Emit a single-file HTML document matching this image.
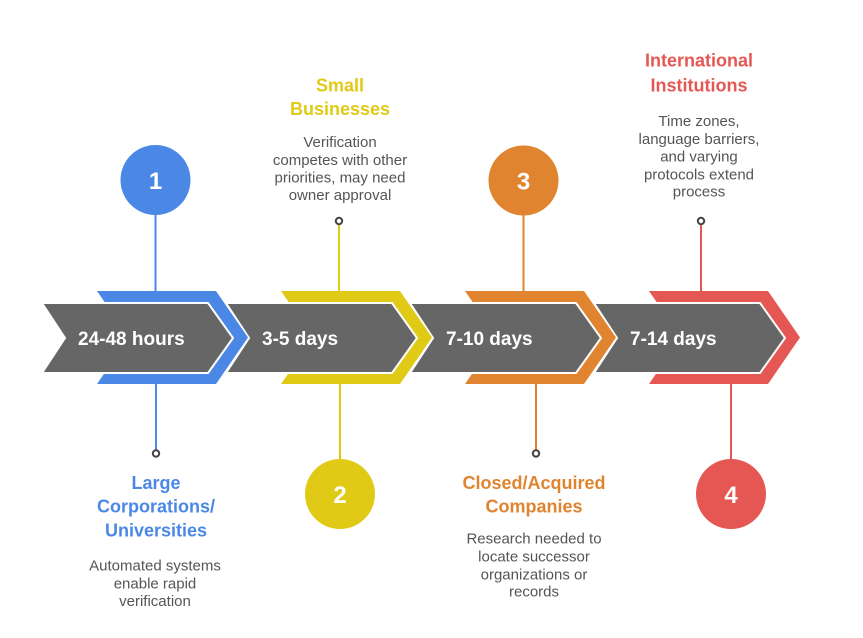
<!DOCTYPE html>
<html><head><meta charset="utf-8"><style>
html,body{margin:0;padding:0;background:#fff;}
svg{display:block;}
text{font-family:"Liberation Sans",Arial,sans-serif;}
.t{font-weight:bold;font-size:18px;text-anchor:middle;}
.d{font-size:15px;fill:#555555;text-anchor:middle;}
.g{font-weight:bold;font-size:19px;fill:#ffffff;}
.n{font-weight:bold;font-size:24px;fill:#ffffff;text-anchor:middle;}
</style></head><body>
<svg width="863" height="638" viewBox="0 0 863 638" xmlns="http://www.w3.org/2000/svg">
<!-- step 4 (red) -->
<polygon points="649,291 768,291 800,337.5 768,384 649,384 681,337.5" fill="#E55753"/>
<polygon points="594,303 760,303 785,338 760,373 594,373 617,338" fill="#666666" stroke="#ffffff" stroke-width="2"/>
<!-- step 3 (orange) -->
<polygon points="465,291 584,291 616,337.5 584,384 465,384 497,337.5" fill="#E08430"/>
<polygon points="410,303 576,303 601,338 576,373 410,373 433,338" fill="#666666" stroke="#ffffff" stroke-width="2"/>
<!-- step 2 (yellow) -->
<polygon points="281,291 400,291 432,337.5 400,384 281,384 313,337.5" fill="#E1CA16"/>
<polygon points="226,303 392,303 417,338 392,373 226,373 249,338" fill="#666666" stroke="#ffffff" stroke-width="2"/>
<!-- step 1 (blue) -->
<polygon points="97,291 216,291 248,337.5 216,384 97,384 129,337.5" fill="#4B88E5"/>
<polygon points="42,303 208,303 233,338 208,373 42,373 65,338" fill="#666666" stroke="#ffffff" stroke-width="2"/>

<text class="g" x="78" y="345">24-48 hours</text>
<text class="g" x="262" y="345">3-5 days</text>
<text class="g" x="446" y="345">7-10 days</text>
<text class="g" x="630" y="345">7-14 days</text>

<!-- connectors -->
<line x1="155.5" y1="214" x2="155.5" y2="291" stroke="#4B88E5" stroke-width="2"/>
<line x1="156" y1="384" x2="156" y2="450" stroke="#4B88E5" stroke-width="2"/>
<circle cx="156" cy="453.5" r="3.2" fill="#fff" stroke="#444" stroke-width="2"/>

<line x1="339" y1="225" x2="339" y2="291" stroke="#E1CA16" stroke-width="2"/>
<circle cx="339" cy="221" r="3.2" fill="#fff" stroke="#444" stroke-width="2"/>
<line x1="340" y1="384" x2="340" y2="460" stroke="#E1CA16" stroke-width="2"/>

<line x1="523.5" y1="214" x2="523.5" y2="291" stroke="#E08430" stroke-width="2"/>
<line x1="536" y1="384" x2="536" y2="450" stroke="#E08430" stroke-width="2"/>
<circle cx="536" cy="453.5" r="3.2" fill="#fff" stroke="#444" stroke-width="2"/>

<line x1="701" y1="225" x2="701" y2="291" stroke="#E55753" stroke-width="2"/>
<circle cx="701" cy="221" r="3.2" fill="#fff" stroke="#444" stroke-width="2"/>
<line x1="731" y1="384" x2="731" y2="460" stroke="#E55753" stroke-width="2"/>

<!-- circles -->
<circle cx="155.5" cy="180" r="35" fill="#4B88E5"/>
<text class="n" x="155.5" y="189">1</text>
<circle cx="340" cy="494" r="35" fill="#E1CA16"/>
<text class="n" x="340" y="503">2</text>
<circle cx="523.5" cy="180.5" r="35" fill="#E08430"/>
<text class="n" x="523.5" y="189.5">3</text>
<circle cx="731" cy="494" r="35" fill="#E55753"/>
<text class="n" x="731" y="503">4</text>

<!-- texts -->
<text class="t" fill="#E1CA16" x="340" y="91.5">Small</text>
<text class="t" fill="#E1CA16" x="340" y="115">Businesses</text>
<text class="d" x="340" y="147">Verification</text>
<text class="d" x="340" y="165">competes with other</text>
<text class="d" x="340" y="182.5">priorities, may need</text>
<text class="d" x="340" y="200">owner approval</text>

<text class="t" fill="#E55753" x="699" y="66.5">International</text>
<text class="t" fill="#E55753" x="699" y="91.5">Institutions</text>
<text class="d" x="699" y="126">Time zones,</text>
<text class="d" x="699" y="144">language barriers,</text>
<text class="d" x="699" y="161.5">and varying</text>
<text class="d" x="699" y="179.3">protocols extend</text>
<text class="d" x="699" y="196.7">process</text>

<text class="t" fill="#4B88E5" x="156" y="489">Large</text>
<text class="t" fill="#4B88E5" x="156" y="512.7">Corporations/</text>
<text class="t" fill="#4B88E5" x="156" y="536.7">Universities</text>
<text class="d" x="155" y="570.7">Automated systems</text>
<text class="d" x="155" y="588.3">enable rapid</text>
<text class="d" x="155" y="606">verification</text>

<text class="t" fill="#E08430" x="534" y="489">Closed/Acquired</text>
<text class="t" fill="#E08430" x="534" y="512.7">Companies</text>
<text class="d" x="534" y="543.3">Research needed to</text>
<text class="d" x="534" y="561.5">locate successor</text>
<text class="d" x="534" y="579.3">organizations or</text>
<text class="d" x="534" y="596.7">records</text>
</svg>
</body></html>
